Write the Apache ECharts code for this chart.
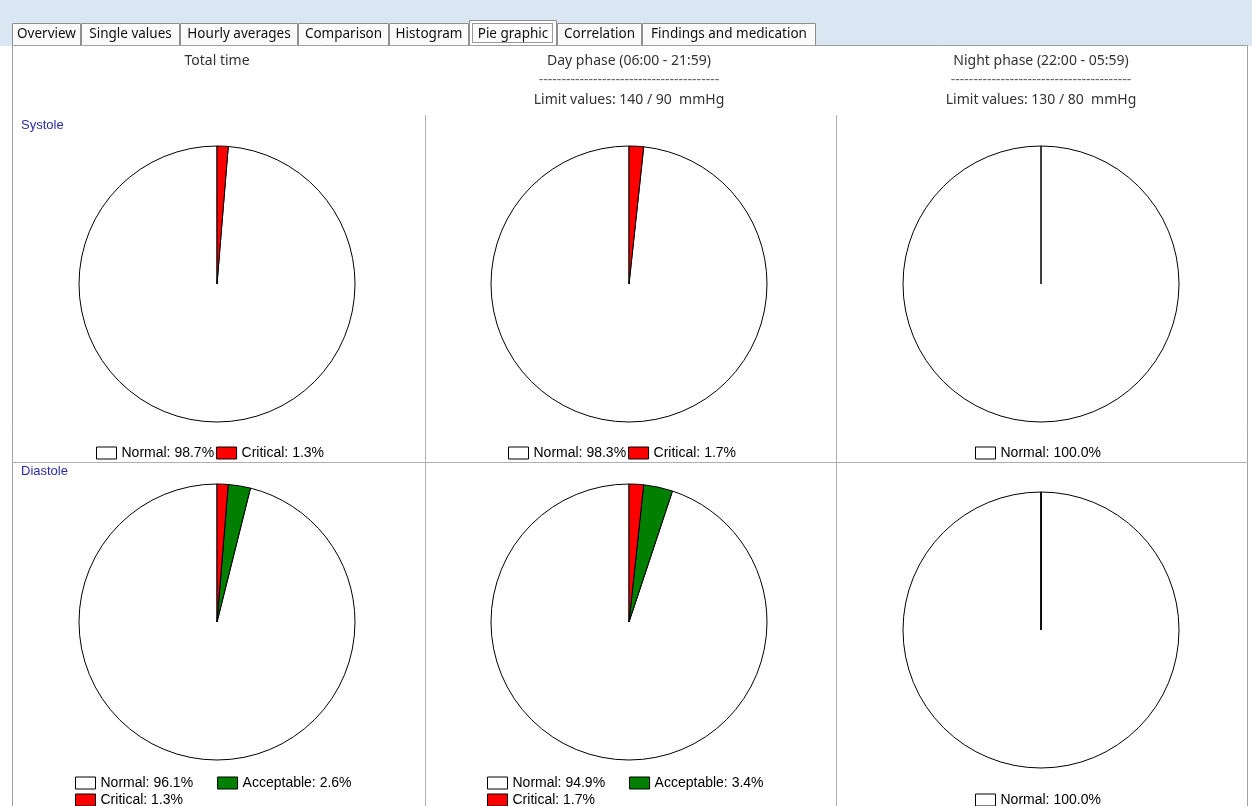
<!DOCTYPE html>
<html>
<head>
<meta charset="utf-8">
<script src="https://cdn.jsdelivr.net/npm/echarts@6/dist/echarts.min.js"></script>
<style>
  html, body { margin: 0; padding: 0; background: #fff; }
  #chart { width: 1252px; height: 806px; }
</style>
</head>
<body>
<div id="chart"></div>
<script>
// tabs of the application window
var tabs = ['Overview', 'Single values', 'Hourly averages', 'Comparison', 'Histogram', 'Pie graphic', 'Correlation', 'Findings and medication'];
var activeTab = 'Pie graphic';

// column headers
var phaseTitles = ['Total time', 'Day phase (06:00 - 21:59)', 'Night phase (22:00 - 05:59)'];
var limitTexts = ['', 'Limit values: 140 / 90  mmHg', 'Limit values: 130 / 80  mmHg'];
var rowTitles = ['Systole', 'Diastole'];

// percentages per phase (total, day, night)
var systoleNormal = [98.7, 98.3, 100.0];
var systoleCritical = [1.3, 1.7, 0];
var diastoleNormal = [96.1, 94.9, 100.0];
var diastoleAcceptable = [2.6, 3.4, 0];
var diastoleCritical = [1.3, 1.7, 0];

var colors = { Normal: '#ffffff', Acceptable: '#007f00', Critical: '#ff0000' };

var myChart = echarts.init(document.getElementById('chart'));

// layout
var tabEdges = [12, 81, 180, 298, 389, 469, 557, 642, 816];
var colX = [217, 629, 1041];
var sysY = [284, 284, 284];
var diaY = [622, 622, 630];
var R = 138;

var graphic = [];
graphic.push({ type: 'rect', shape: { x: 0, y: 0, width: 1252, height: 46 }, style: { fill: '#dbe6f3' }, silent: true });
// tabs
for (var i = 0; i < tabs.length; i++) {
  var x0 = tabEdges[i], x1 = tabEdges[i + 1];
  var active = tabs[i] === activeTab;
  graphic.push({
    type: 'rect',
    shape: { x: x0 + 0.5, y: (active ? 20 : 23) + 0.5, width: x1 - x0 - 1, height: active ? 26 : 23 },
    style: { fill: active ? '#ffffff' : '#fbfbfb', stroke: '#8e8f8f', lineWidth: 1 },
    silent: true
  });
  graphic.push({
    type: 'text',
    style: { text: tabs[i], x: (x0 + x1) / 2, y: 34, align: 'center', verticalAlign: 'middle', font: '13.5px "Noto Sans"', fill: '#111' },
    silent: true
  });
  if (active) {
    graphic.push({
      type: 'rect',
      shape: { x: x0 + 3.5, y: 23.5, width: x1 - x0 - 8, height: 19 },
      style: { fill: null, stroke: '#333', lineWidth: 1, lineDash: [1, 1] },
      silent: true
    });
  }
}
// panel
graphic.push({ type: 'rect', shape: { x: 12.5, y: 45.5, width: 1235, height: 770 }, style: { fill: '#ffffff', stroke: '#a0a0a0', lineWidth: 1 }, silent: true });
graphic.push({ type: 'line', shape: { x1: 12, y1: 462.5, x2: 1248, y2: 462.5 }, style: { stroke: '#b0b0b0', lineWidth: 1 }, silent: true });
graphic.push({ type: 'line', shape: { x1: 425.5, y1: 115, x2: 425.5, y2: 806 }, style: { stroke: '#b0b0b0', lineWidth: 1 }, silent: true });
graphic.push({ type: 'line', shape: { x1: 836.5, y1: 115, x2: 836.5, y2: 806 }, style: { stroke: '#b0b0b0', lineWidth: 1 }, silent: true });
// headers
var dashes = new Array(41).join('-');
for (var c = 0; c < 3; c++) {
  graphic.push({ type: 'text', style: { text: phaseTitles[c], x: colX[c], y: 61, align: 'center', verticalAlign: 'middle', font: '14px "Noto Sans"', fill: '#333' }, silent: true });
  if (limitTexts[c]) {
    graphic.push({ type: 'text', style: { text: dashes, x: colX[c], y: 80, align: 'center', verticalAlign: 'middle', font: '14px "Noto Sans"', fill: '#666' }, silent: true });
    graphic.push({ type: 'text', style: { text: limitTexts[c], x: colX[c], y: 100, align: 'center', verticalAlign: 'middle', font: '14px "Noto Sans"', fill: '#333' }, silent: true });
  }
}
graphic.push({ type: 'text', style: { text: rowTitles[0], x: 21, y: 125, verticalAlign: 'middle', font: '13px "Liberation Sans"', fill: '#2b2ba8' }, silent: true });
graphic.push({ type: 'text', style: { text: rowTitles[1], x: 21, y: 471, verticalAlign: 'middle', font: '13px "Liberation Sans"', fill: '#2b2ba8' }, silent: true });

function pieData(names, values) {
  return names.map(function (n, k) {
    return { name: n, value: values[k], itemStyle: { color: colors[n] } };
  });
}

var series = [];
var legends = [];

function makeLegend(names, vals, left, top, gap) {
  var lookup = {};
  names.forEach(function (n, k) { lookup[n] = vals[k]; });
  legends.push({
    data: names,
    left: left,
    top: top,
    padding: 0,
    itemGap: gap,
    itemWidth: 20,
    itemHeight: 12,
    icon: 'rect',
    selectedMode: false,
    itemStyle: { borderColor: '#000', borderWidth: 1 },
    textStyle: { fontFamily: 'Liberation Sans', fontSize: 14, color: '#000' },
    formatter: function (name) { return name + ': ' + lookup[name].toFixed(1) + '%'; }
  });
}

function pieSeries(cx, cy, names, values) {
  // counter-clockwise from 12 o'clock: the last slice ends just right of the top
  return {
    type: 'pie',
    center: [cx, cy],
    radius: R,
    startAngle: 90,
    clockwise: false,
    silent: true,
    animation: false,
    label: { show: false },
    labelLine: { show: false },
    itemStyle: { borderColor: '#000', borderWidth: 1 },
    data: pieData(names, values)
  };
}

var sysLegendLeft = [96, 508, 975];
var diaLegendLeft = [75, 487, 975];

for (var c = 0; c < 3; c++) {
  series.push(pieSeries(colX[c], sysY[c], ['Normal', 'Critical'], [systoleNormal[c], systoleCritical[c]]));
  series.push(pieSeries(colX[c], diaY[c], ['Normal', 'Acceptable', 'Critical'], [diastoleNormal[c], diastoleAcceptable[c], diastoleCritical[c]]));

  if (systoleCritical[c] > 0) {
    makeLegend(['Normal', 'Critical'], [systoleNormal[c], systoleCritical[c]], sysLegendLeft[c], 446, 2);
  } else {
    makeLegend(['Normal'], [systoleNormal[c]], sysLegendLeft[c], 446, 2);
  }
  if (diastoleCritical[c] > 0) {
    makeLegend(['Normal', 'Acceptable'], [diastoleNormal[c], diastoleAcceptable[c]], diaLegendLeft[c], 776, 24);
    makeLegend(['Critical'], [diastoleCritical[c]], diaLegendLeft[c], 793, 24);
  } else {
    makeLegend(['Normal'], [diastoleNormal[c]], diaLegendLeft[c], 793, 24);
  }
}

var option = {
  backgroundColor: '#ffffff',
  animation: false,
  graphic: graphic,
  legend: legends,
  series: series
};
myChart.setOption(option);
</script>
</body>
</html>
